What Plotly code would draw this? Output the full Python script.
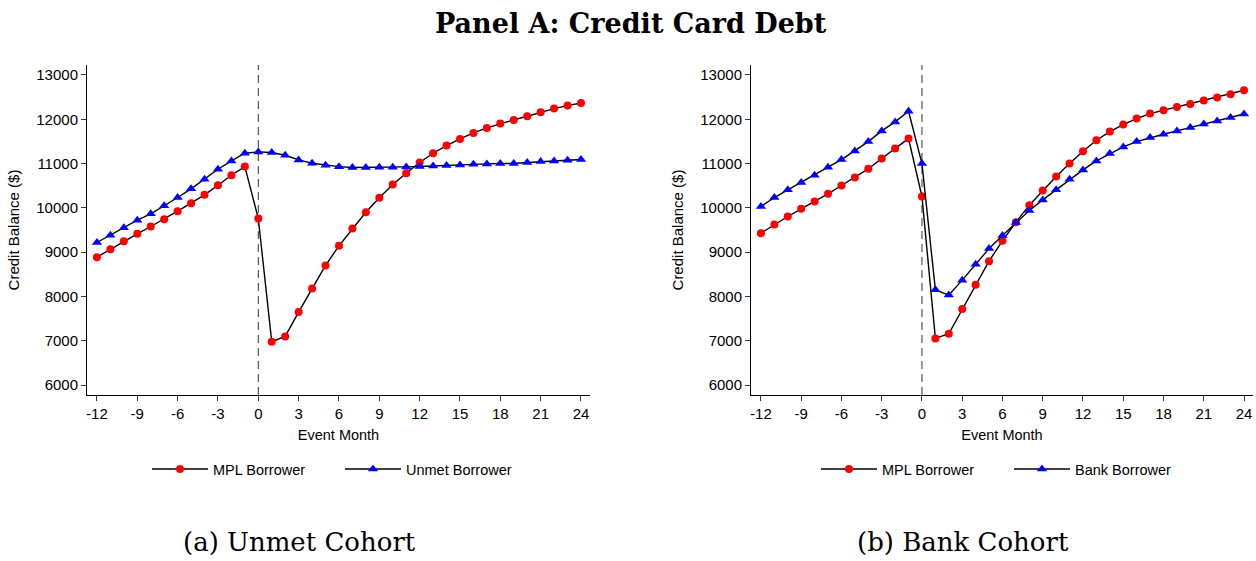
import plotly.graph_objects as go

# Event-study months relative to first MPL loan
months = list(range(-12, 25))

# Panel (a): Unmet cohort
unmet_mpl = [8887, 9068, 9248, 9414, 9579, 9744, 9925, 10105, 10293, 10511, 10737, 10932,
             9759,
             6977, 7098, 7647, 8180, 8699, 9143, 9534, 9902, 10226, 10526, 10782, 11023,
             11233, 11406, 11556, 11692, 11805, 11902, 11985, 12068, 12158, 12241, 12308, 12368]
unmet_unmet = [9218, 9383, 9549, 9722, 9865, 10045, 10233, 10429, 10647, 10872, 11060, 11233,
               11263,
               11248, 11188, 11083, 11008, 10962, 10930, 10910, 10910, 10917, 10917, 10925, 10932,
               10947, 10955, 10970, 10985, 10992, 11000, 11000, 11023, 11045, 11060, 11075, 11090]

# Panel (b): Bank cohort
bank_mpl = [9429, 9624, 9805, 9977, 10143, 10316, 10504, 10684, 10880, 11113, 11338, 11564,
            10256,
            7053, 7158, 7714, 8263, 8797, 9256, 9677, 10060, 10391, 10707, 11000, 11278,
            11526, 11722, 11880, 12015, 12128, 12203, 12278, 12346, 12421, 12489, 12564, 12654]
bank_bank = [10030, 10233, 10406, 10571, 10737, 10917, 11090, 11286, 11496, 11737, 11940, 12180,
             11000,
             8150, 8030, 8368, 8729, 9080, 9376, 9669, 9940, 10180, 10406, 10647, 10857,
             11060, 11226, 11376, 11496, 11586, 11662, 11737, 11812, 11895, 11962, 12038, 12120]

x_ticks = list(range(-12, 25, 3))
x_ticktext = [str(v) for v in x_ticks]
y_ticks = list(range(6000, 13001, 1000))
y_ticktext = [str(v) for v in y_ticks]

W, H = 1256, 561
SANS = "Liberation Sans, Arial, sans-serif"
SERIF = "DejaVu Serif, serif"

fig = go.Figure()


def add_series(x, y, name, color, symbol, size, xa, ya, legend):
    fig.add_trace(go.Scatter(
        x=x, y=y, name=name, mode="lines+markers",
        line=dict(color="black", width=1.4),
        marker=dict(color=color, symbol=symbol, size=size, line=dict(width=0)),
        xaxis=xa, yaxis=ya, legend=legend,
    ))


add_series(months, unmet_mpl, "MPL Borrower", "#ff0000", "circle", 8, "x", "y", "legend")
add_series(months, unmet_unmet, "Unmet Borrower", "#0000ff", "triangle-up", 9, "x", "y", "legend")
add_series(months, bank_mpl, "MPL Borrower", "#ff0000", "circle", 8, "x2", "y2", "legend2")
add_series(months, bank_bank, "Bank Borrower", "#0000ff", "triangle-up", 9, "x2", "y2", "legend2")


def px_x(p):
    return p / W


def px_y(p):
    return 1 - p / H


y_dom = [px_y(395), px_y(65)]
common_x = dict(
    range=[-12.74, 24.67], tickvals=x_ticks, ticktext=x_ticktext, ticks="outside", ticklen=5,
    tickwidth=1, tickcolor="#333", showline=True, linecolor="black", linewidth=1,
    showgrid=False, zeroline=False, tickfont=dict(family=SANS, size=15, color="black"),
    automargin=False,
    title=dict(text="Event Month", font=dict(family=SANS, size=14.5, color="black"), standoff=8),
)
common_y = dict(
    range=[5775, 13225], tickvals=y_ticks, ticktext=y_ticktext, ticks="outside", ticklen=5,
    tickwidth=1, tickcolor="#333", showline=True, linecolor="black", linewidth=1,
    showgrid=False, zeroline=False, tickfont=dict(family=SANS, size=15, color="black"),
    domain=y_dom, automargin=False,
    title=dict(text="Credit Balance ($)", font=dict(family=SANS, size=15, color="black"), standoff=13),
)

legend_common = dict(orientation="h", yanchor="middle", xanchor="left", y=px_y(469),
                     font=dict(family=SANS, size=14.5, color="black"), itemwidth=56,
                     entrywidth=122, entrywidthmode="pixels", bgcolor="rgba(0,0,0,0)")

fig.update_layout(
    width=W, height=H,
    margin=dict(l=0, r=0, t=0, b=0, autoexpand=False),
    paper_bgcolor="white", plot_bgcolor="white",
    xaxis=dict(domain=[px_x(87), px_x(590)], anchor="y", **common_x),
    yaxis=dict(anchor="x", **common_y),
    xaxis2=dict(domain=[px_x(751), px_x(1253)], anchor="y2", **common_x),
    yaxis2=dict(anchor="x2", **common_y),
    legend=dict(x=px_x(147), **legend_common),
    legend2=dict(x=px_x(816), **legend_common),
    showlegend=True,
)

# Event date marker
for xr, yr in (("x", "y"), ("x2", "y2")):
    fig.add_shape(type="line", xref=xr, yref=f"{yr} domain", x0=0, x1=0, y0=0, y1=1,
                  line=dict(color="#333", width=1, dash="8px,5px"), layer="below")

fig.add_annotation(text="<b>Panel A: Credit Card Debt</b>", xref="paper", yref="paper",
                   x=px_x(631), y=px_y(23), xanchor="center", yanchor="middle", showarrow=False,
                   font=dict(family=SERIF, size=27, color="black"))
fig.add_annotation(text="(a) Unmet Cohort", xref="paper", yref="paper",
                   x=px_x(299), y=px_y(542), xanchor="center", yanchor="middle", showarrow=False,
                   font=dict(family=SERIF, size=26, color="black"))
fig.add_annotation(text="(b) Bank Cohort", xref="paper", yref="paper",
                   x=px_x(963), y=px_y(542), xanchor="center", yanchor="middle", showarrow=False,
                   font=dict(family=SERIF, size=26, color="black"))

fig.write_html("out.html")
